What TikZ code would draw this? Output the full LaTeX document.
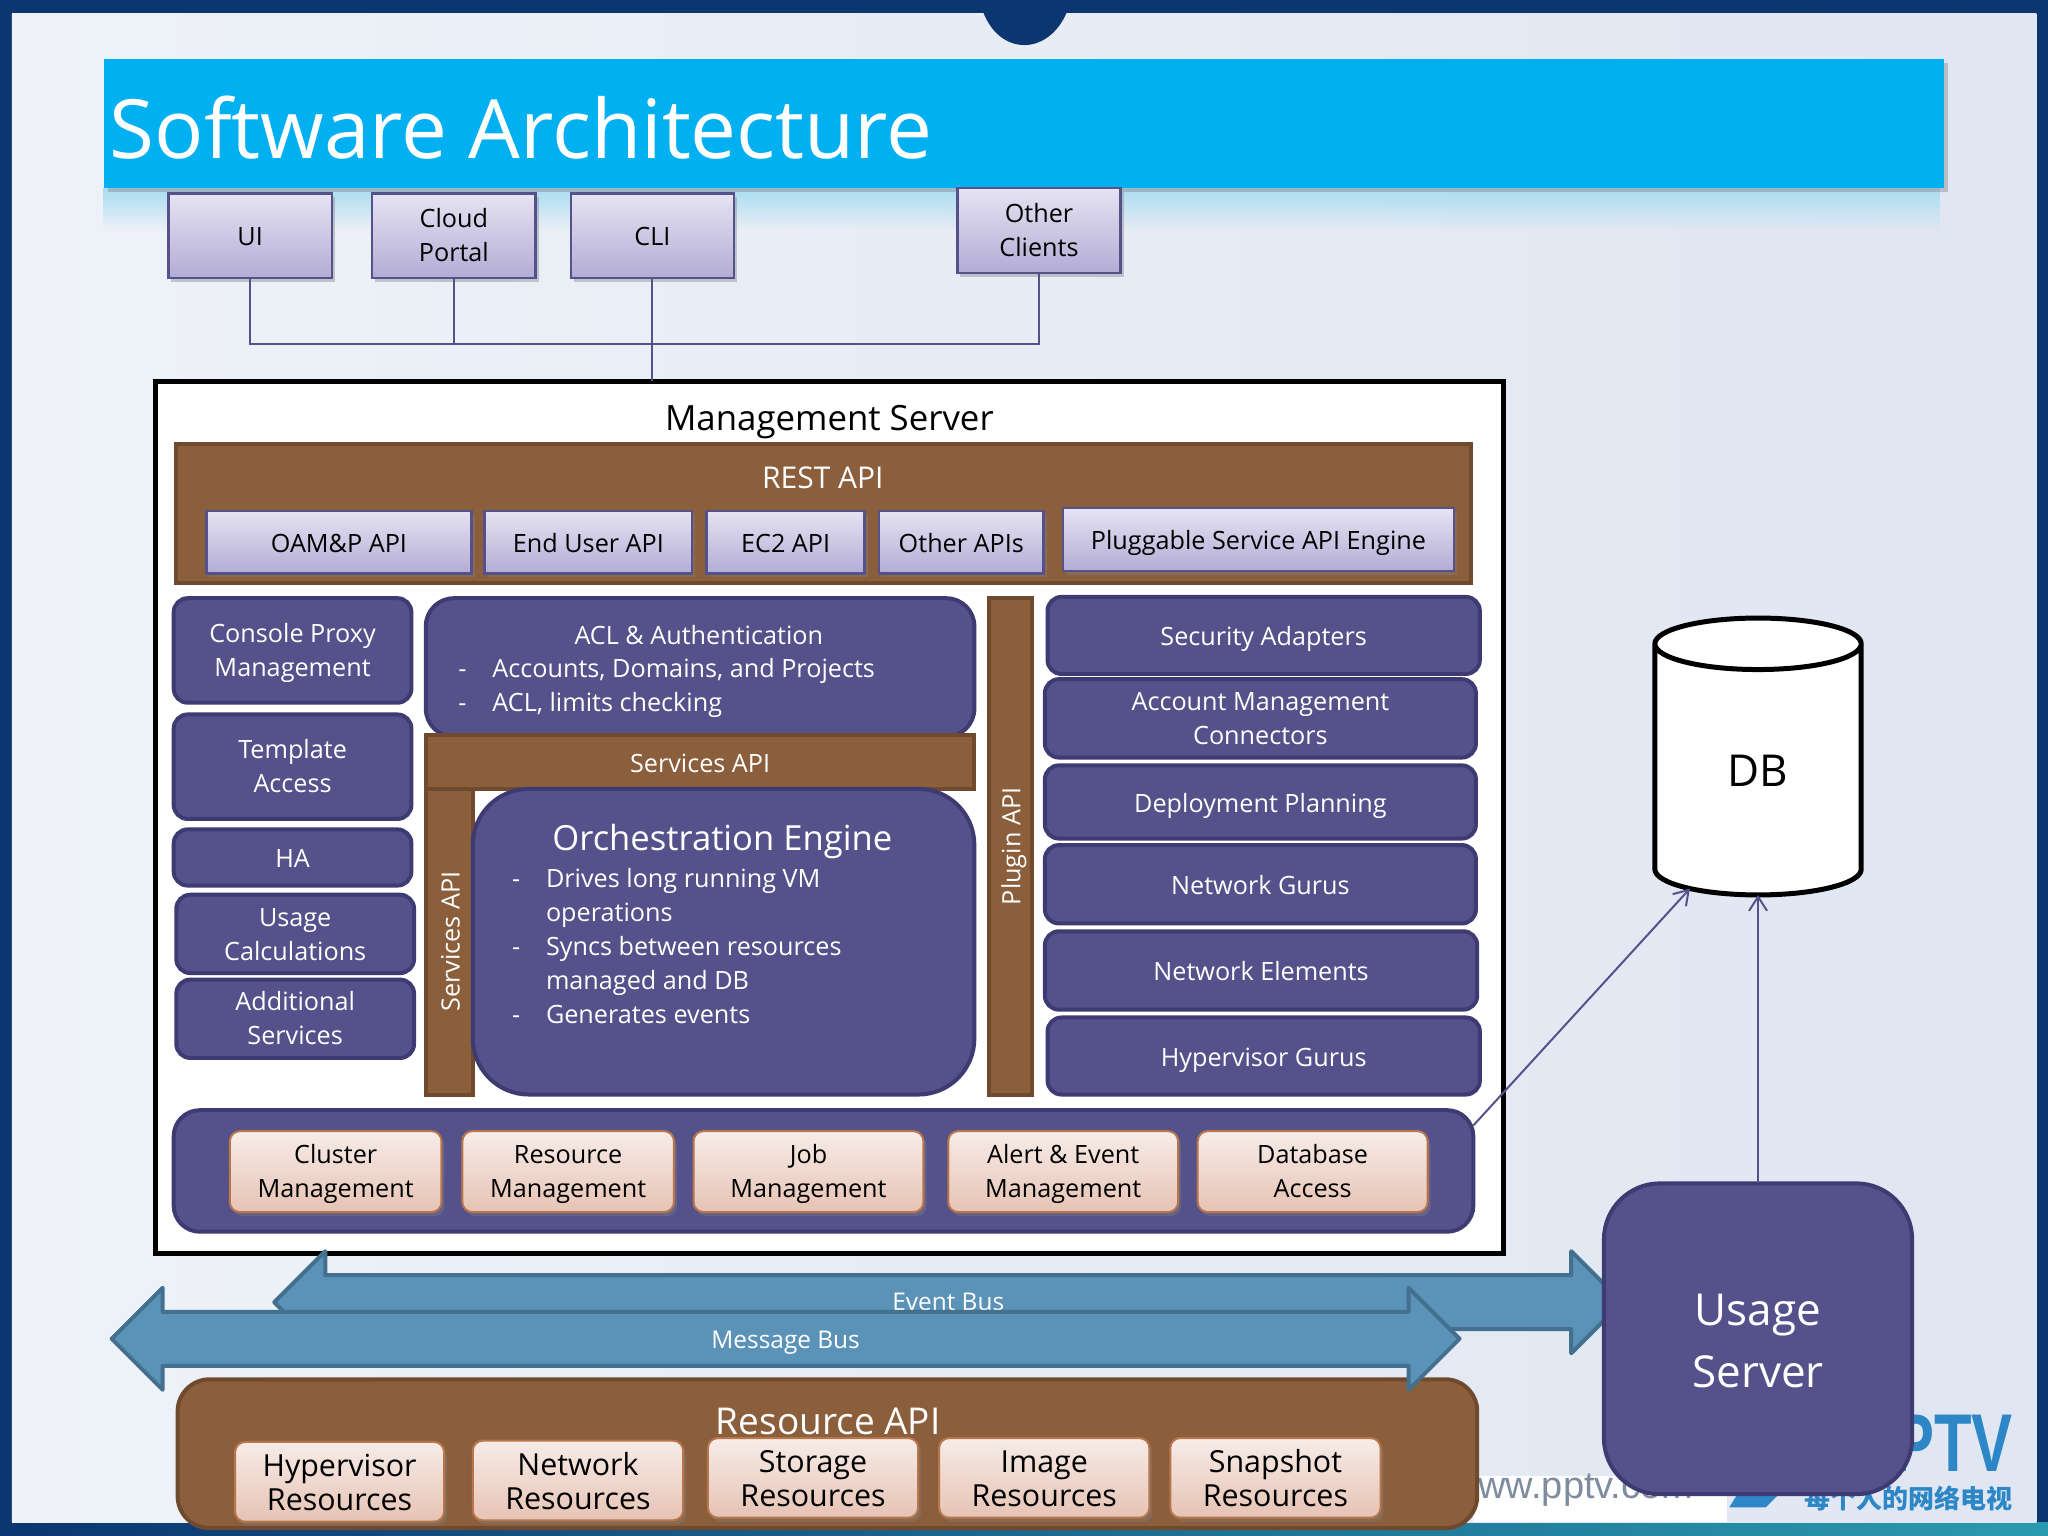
\documentclass[tikz,border=0pt]{standalone}
\usepackage{fontspec}
\setmainfont{Open Sans}
\newfontfamily\cjkfont{Noto Sans CJK SC}
\newfontfamily\logofont{Liberation Sans}
\usepackage{xcolor}
\usetikzlibrary{shapes,arrows.meta}
\usetikzlibrary{shadows}
\usetikzlibrary{fadings}
\usetikzlibrary{positioning}

\definecolor{framedark}{HTML}{0B3670}
\definecolor{frameteal}{HTML}{2B9AAE}
\definecolor{pageleft}{HTML}{EEF2F8}
\definecolor{pagemid}{HTML}{F2F4FA}
\definecolor{pageright}{HTML}{E0E6F2}
\definecolor{titleblue}{HTML}{00B0F0}
\definecolor{glowblue}{HTML}{A9DDF0}
\definecolor{purplefill}{HTML}{55518A}
\definecolor{purpleedge}{HTML}{3E3B72}
\definecolor{liltop}{HTML}{E6E3F2}
\definecolor{lilbottom}{HTML}{B3ACD5}
\definecolor{peachtop}{HTML}{F7ECE8}
\definecolor{peachbottom}{HTML}{E6C3B4}
\definecolor{peachedge}{HTML}{B9764B}
\definecolor{brownfill}{HTML}{8B5E3C}
\definecolor{brownedge}{HTML}{6F4A2E}
\definecolor{busfill}{HTML}{5B92B7}
\definecolor{busedge}{HTML}{44708F}
\definecolor{logoblue}{HTML}{2D87C6}
\definecolor{wwwgray}{HTML}{7E8C9E}

\newcommand{\bodyfont}{\fontsize{12.6}{17}\selectfont}
\newcommand{\boxstrut}{\rule[-.3\baselineskip]{0pt}{1.2\baselineskip}}
\newcommand{\dashitem}[1]{\makebox[17pt][l]{-}#1}
\newcommand{\dashcont}[1]{\hspace*{17pt}#1}

\tikzset{
  boxsize/.style 2 args={minimum width=#1*0.653pt, minimum height=#2*0.653pt},
  anybox/.style={inner sep=0pt, outer sep=0pt, align=center, font=\bodyfont,
    execute at begin node=\boxstrut, execute at end node=\boxstrut},
  twolines/.style={text height=26.2pt, text depth=0pt},
  clientbox/.style={anybox, draw=purplefill, line width=1.2pt, top color=liltop, bottom color=lilbottom,
    drop shadow={shadow xshift=1.5pt, shadow yshift=-2pt, opacity=.4}},
  purplebox/.style={anybox, draw=purpleedge, line width=2pt, fill=purplefill, text=white, rounded corners=7pt},
  peachbox/.style={anybox, twolines, draw=peachedge, line width=1pt, top color=peachtop, bottom color=peachbottom, rounded corners=5pt,
    drop shadow={shadow xshift=1.5pt, shadow yshift=-2pt, opacity=.4}},
  resbox/.style={peachbox, text height=28.9pt, font=\fontsize{15.2}{17}\selectfont},
  brownbox/.style={anybox, draw=brownedge, line width=2pt, fill=brownfill, text=white},
  busarrow/.style={inner sep=0pt, outer sep=0pt, shape=double arrow, draw=busedge, line width=2pt, line join=round, fill=busfill, text=white,
    double arrow tip angle=90, double arrow head extend=12pt, inner ysep=6.5pt, inner xsep=0pt,
    text height=11pt, text depth=1pt, minimum width=49pt, font=\fontsize{12.2}{17}\selectfont},
  wire/.style={draw=purplefill, line width=1pt},
  plaintext/.style={inner sep=0pt, outer sep=0pt}
}

\begin{document}
\begin{tikzpicture}[x=0.653pt, y=-0.653pt, >={Straight Barb[length=7pt, width=9pt]}]
  \useasboundingbox (0,0) rectangle (1568,1176);

  % Slide background
  \fill[framedark] (0,0) rectangle (1568,1176);
  \shade[left color=framedark, right color=frameteal] (0,1166) rectangle (1568,1176);
  \shade[left color=pageleft, middle color=pagemid, right color=pageright] (9,10) rectangle (1559,1166);
  \fill[framedark] (750,0) .. controls (760,46) and (808,46) .. (820,0) -- cycle;

  % Watermark in the corner
  \fill[white] (1128,1130) rectangle (1322,1165);
  \node[plaintext, anchor=west, text=wwwgray, font=\logofont\fontsize{19}{19}\selectfont] (www) at (1111,1141) {www.pptv.com};
  \fill[logoblue] (1324,1154) -- (1332,1141) -- (1365,1141) -- (1352,1154) -- cycle;
  \node[plaintext, anchor=east, xscale=.75, text=logoblue, font=\logofont\bfseries\fontsize{41}{41}\selectfont] (logo) at (1541,1105) {PPTV};
  \node[plaintext, anchor=east, text=logoblue, font=\cjkfont\bfseries\fontsize{13}{13}\selectfont] (slogan) at (1541,1147) {每个人的网络电视};

  % Title bar
  \fill[glowblue, path fading=south] (80,144) rectangle (1488,176);
  \node[plaintext, fill=titleblue, minimum width=1408*0.653pt, minimum height=99*0.653pt, drop shadow={shadow xshift=2pt, shadow yshift=-2pt, opacity=.4}] (titlebar) at (784,94.5) {};
  \node[plaintext, anchor=base west, text=white, font=\fontsize{40.9}{41}\selectfont] (title) at (84,121) {Software Architecture};

  % Clients
  \node[clientbox, boxsize={125}{65}] (ui) at (191.5,180.5) {UI};
  \node[clientbox, twolines, boxsize={125}{65}] (portal) at (347.5,180.5) {Cloud\\Portal};
  \node[clientbox, boxsize={125}{65}] (cli) at (499.5,180.5) {CLI};
  \node[clientbox, twolines, boxsize={125}{65}] (others) at (795.5,176.5) {Other\\Clients};

  % Management server
  \node[plaintext, draw=black, line width=2.4pt, fill=white, boxsize={1032}{668}] (mgmt) at (635,626) {};
  \node[plaintext, font=\fontsize{17.4}{18}\selectfont] (mgmtlabel) at (635,323) {Management Server};

  \coordinate (hub) at (499.5,263);
  \draw[wire] (ui.south) |- (hub) -| (others.south);
  \draw[wire] (portal.south) -- (portal.south |- hub);
  \draw[wire] (cli.south) -- (cli.south |- mgmt.north);

  % REST API row
  \node[brownbox, boxsize={991}{106}] (rest) at (630.5,393) {};
  \node[plaintext, text=white, font=\fontsize{15}{15}\selectfont] (restlabel) at (630,366) {REST API};
  \node[clientbox, boxsize={203}{48}] (oam) at (259.5,415) {OAM\&P API};
  \node[clientbox, boxsize={159}{48}] (enduser) at (450.5,415) {End User API};
  \node[clientbox, boxsize={121}{48}] (ectwo) at (601.5,415) {EC2 API};
  \node[clientbox, boxsize={126}{48}] (otherapi) at (736,415) {Other APIs};
  \node[clientbox, boxsize={299}{48}] (pluggable) at (963.5,413) {Pluggable Service API Engine};

  % Left column
  \node[purplebox, twolines, boxsize={182}{80}] (console) at (224,498) {Console Proxy\\Management};
  \node[purplebox, twolines, boxsize={182}{80}] (template) at (224,587) {Template\\Access};
  \node[purplebox, boxsize={182}{43}] (ha) at (224,656.5) {HA};
  \node[purplebox, twolines, boxsize={182}{60}] (usagecalc) at (226,715) {Usage\\Calculations};
  \node[purplebox, twolines, boxsize={182}{60}] (additional) at (226,780) {Additional\\Services};

  % Middle: ACL, services API, orchestration
  \node[purplebox, rounded corners=14pt, boxsize={420}{106}] (acl) at (536,511) {};
  \node[plaintext, text=white, font=\bodyfont] (acltitle) at (535,486) {ACL \& Authentication};
  \node[plaintext, anchor=north west, text=white, align=left, font=\bodyfont] (acltext) at (351,504)
    {\dashitem{Accounts, Domains, and Projects}\\\dashitem{ACL, limits checking}};
  \node[brownbox, boxsize={420}{41}] (servicesh) at (536,583.5) {Services API};
  \node[brownbox, rotate=90, boxsize={234}{36}] (servicesv) at (344,721) {Services API};
  \node[purplebox, rounded corners=28pt, boxsize={384}{234}] (orch) at (554,721) {};
  \node[plaintext, text=white, font=\fontsize{17.3}{18}\selectfont] (orchtitle) at (553,644) {Orchestration Engine};
  \node[plaintext, anchor=north west, text=white, align=left, font=\bodyfont] (orchtext) at (392,665)
    {\dashitem{Drives long running VM}\\\dashcont{operations}\\\dashitem{Syncs between resources}\\\dashcont{managed and DB}\\\dashitem{Generates events}};
  \node[brownbox, rotate=90, boxsize={380}{33}] (plugin) at (773.5,648) {Plugin API};

  % Right column
  \node[purplebox, boxsize={331}{59}] (security) at (967.5,486.5) {Security Adapters};
  \node[purplebox, twolines, boxsize={330}{60}] (account) at (965,550) {Account Management\\Connectors};
  \node[purplebox, boxsize={330}{56}] (deploy) at (965,614) {Deployment Planning};
  \node[purplebox, boxsize={330}{60}] (netgurus) at (965,677) {Network Gurus};
  \node[purplebox, boxsize={331}{60}] (elements) at (965.5,743) {Network Elements};
  \node[purplebox, boxsize={331}{59}] (hypgurus) at (967.5,808.5) {Hypervisor Gurus};

  % Managers along the bottom
  \node[purplebox, rounded corners=13pt, boxsize={995}{93}] (managers) at (630.5,896.5) {};
  \node[peachbox, boxsize={162}{62}] (cluster) at (257,897) {Cluster\\Management};
  \node[peachbox, boxsize={162}{62}] (resource) at (435,897) {Resource\\Management};
  \node[peachbox, boxsize={176}{62}] (job) at (619,897) {Job\\Management};
  \node[peachbox, boxsize={176}{62}] (alert) at (814,897) {Alert \& Event\\Management};
  \node[peachbox, boxsize={176}{62}] (dbaccess) at (1005,897) {Database\\Access};

  % Event bus sits behind the message bus
  \node[busarrow, text height=10pt, text depth=2pt, minimum height=1032*0.653pt] (eventbus) at (726,997) {Event Bus};

  % Resource API row
  \node[brownbox, rounded corners=16pt, boxsize={995}{114}] (resapi) at (633.5,1113) {};
  \node[plaintext, text=white, font=\fontsize{18.5}{19}\selectfont] (reslabel) at (634,1088) {Resource API};
  \node[resbox, boxsize={160}{61}] (hypres) at (260,1134.5) {Hypervisor\\Resources};
  \node[resbox, boxsize={161}{61}] (netres) at (442.5,1133.5) {Network\\Resources};
  \node[resbox, boxsize={161}{61}] (stores) at (622.5,1131.5) {Storage\\Resources};
  \node[resbox, boxsize={161}{61}] (imgres) at (799.5,1131.5) {Image\\Resources};
  \node[resbox, boxsize={161}{61}] (snapres) at (976.5,1131.5) {Snapshot\\Resources};

  \node[busarrow, minimum height=1032*0.653pt] (messagebus) at (601.5,1025) {Message Bus};

  % DB and usage server
  \node[plaintext, shape=cylinder, shape border rotate=90, aspect=.85, draw=black, line width=2.5pt, fill=white,
    minimum width=158*0.653pt, minimum height=212*0.653pt, font=\fontsize{22}{22}\selectfont] (db) at (1346,590) {DB};
  \node[purplebox, rounded corners=28pt, text height=49.1pt, text depth=0pt, boxsize={236}{238}, font=\fontsize{22}{31}\selectfont] (usage) at (1346,1025) {Usage\\Server};

  \draw[wire, ->] (usage.north) -- (db.south);
  \draw[wire, ->] (managers.4.4) -- (db.240);
\end{tikzpicture}
\end{document}
